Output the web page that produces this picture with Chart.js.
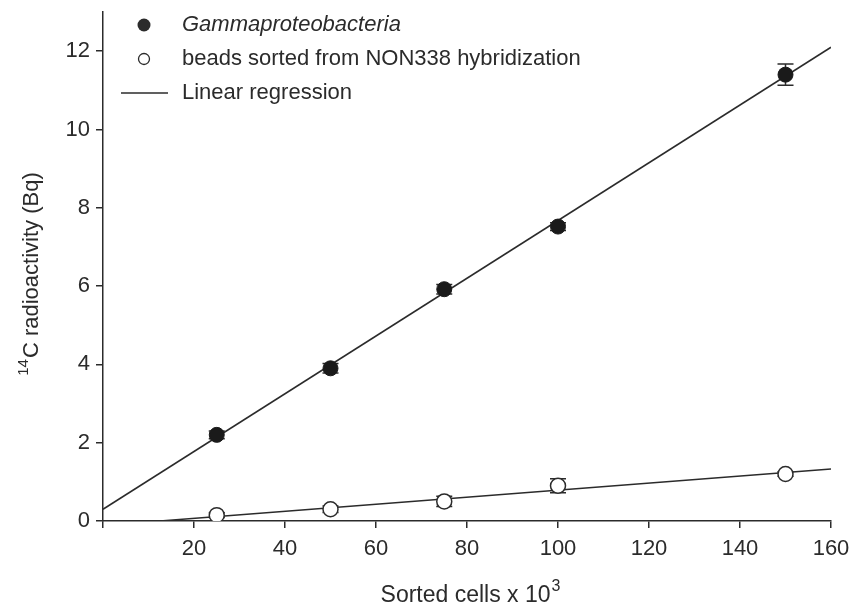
<!DOCTYPE html>
<html>
<head>
<meta charset="utf-8">
<script src="https://cdn.jsdelivr.net/npm/chart.js@4"></script>
<style>
  body { margin: 0; background: #fff; }
  #wrap { width: 855px; height: 615px; }
</style>
</head>
<body>
<div id="wrap"><canvas id="chart"></canvas></div>
<script>
/* data */
const cells = [25, 50, 75, 100, 150];
const gamma = [2.2, 3.9, 5.92, 7.52, 11.4];
const gammaErr = [0.1, 0.12, 0.12, 0.1, 0.27];
const beads = [0.15, 0.3, 0.5, 0.9, 1.2];
const beadsErr = [0.06, 0.08, 0.13, 0.18, 0.06];

// regression line ends
const gammaFitX = [0, 160];
const gammaFitY = [0.3, 12.1];
const beadsFitX = [12.5, 160];
const beadsFitY = [0, 1.33];

const legendLabels = ['Gammaproteobacteria', 'beads sorted from NON338 hybridization', 'Linear regression'];

const ink = '#2b2b2b';
const font = '"Liberation Sans", Arial, sans-serif';

function pts(xs, ys) {
  return xs.map((x, i) => ({ x: x, y: ys[i] }));
}

/* error bars, drawn under the points */
const errorBars = {
  id: 'errorBars',
  beforeDatasetsDraw(chart) {
    const ctx = chart.ctx, xs = chart.scales.x, ys = chart.scales.y;
    ctx.save();
    ctx.strokeStyle = ink;
    ctx.lineWidth = 1.5;
    chart.data.datasets.forEach(ds => {
      if (!ds.errors) return;
      ds.data.forEach((p, i) => {
        const px = xs.getPixelForValue(p.x);
        const top = ys.getPixelForValue(p.y + ds.errors[i]);
        const bot = ys.getPixelForValue(p.y - ds.errors[i]);
        ctx.beginPath();
        ctx.moveTo(px, top); ctx.lineTo(px, bot);
        ctx.moveTo(px - 8, top); ctx.lineTo(px + 8, top);
        ctx.moveTo(px - 8, bot); ctx.lineTo(px + 8, bot);
        ctx.stroke();
      });
    });
    ctx.restore();
  }
};

/* legend in the top left corner and axis titles with real superscripts */
const extras = {
  id: 'extras',
  afterDraw(chart) {
    const ctx = chart.ctx;
    const rows = [25, 59, 93];
    ctx.save();
    ctx.fillStyle = ink;
    ctx.strokeStyle = ink;
    ctx.textBaseline = 'middle';
    ctx.beginPath(); ctx.arc(144, rows[0], 6.5, 0, Math.PI * 2); ctx.fill();
    ctx.lineWidth = 1.3;
    ctx.beginPath(); ctx.arc(144, rows[1], 5.5, 0, Math.PI * 2); ctx.stroke();
    ctx.lineWidth = 1.5;
    ctx.beginPath(); ctx.moveTo(121, rows[2]); ctx.lineTo(168, rows[2]); ctx.stroke();
    ctx.font = 'italic 22px ' + font;
    ctx.fillText(legendLabels[0], 182, rows[0]);
    ctx.font = '22px ' + font;
    ctx.fillText(legendLabels[1], 182, rows[1]);
    ctx.fillText(legendLabels[2], 182, rows[2]);

    // x title
    ctx.textBaseline = 'alphabetic';
    ctx.font = '23px ' + font;
    const xMain = 'Sorted cells x 10';
    const wMain = ctx.measureText(xMain).width;
    ctx.font = '16px ' + font;
    const wSup = ctx.measureText('3').width;
    let x0 = 470 - (wMain + wSup) / 2;
    ctx.font = '23px ' + font;
    ctx.fillText(xMain, x0, 602);
    ctx.font = '16px ' + font;
    ctx.fillText('3', x0 + wMain + 1, 591);

    // y title
    ctx.translate(38, 274);
    ctx.rotate(-Math.PI / 2);
    ctx.font = '22px ' + font;
    const yMain = 'C radioactivity (Bq)';
    const wy = ctx.measureText(yMain).width;
    ctx.font = '15px ' + font;
    const wy14 = ctx.measureText('14').width;
    const y0 = -(wy + wy14 + 1) / 2;
    ctx.fillText('14', y0, -10);
    ctx.font = '22px ' + font;
    ctx.fillText(yMain, y0 + wy14 + 1, 0);
    ctx.restore();
  }
};

new Chart(document.getElementById('chart'), {
  type: 'scatter',
  data: {
    datasets: [
      {
        label: legendLabels[0],
        data: pts(cells, gamma),
        errors: gammaErr,
        backgroundColor: '#1a1a1a',
        borderColor: '#1a1a1a',
        pointRadius: 7.5,
        pointHoverRadius: 7.5,
        order: 1
      },
      {
        label: legendLabels[1],
        data: pts(cells, beads),
        errors: beadsErr,
        backgroundColor: '#fff',
        borderColor: ink,
        borderWidth: 1.5,
        pointRadius: 7.5,
        pointHoverRadius: 7.5,
        order: 2
      },
      {
        label: 'fit gamma',
        data: pts(gammaFitX, gammaFitY),
        showLine: true,
        borderColor: ink,
        borderWidth: 1.5,
        pointRadius: 0,
        order: 3
      },
      {
        label: 'fit beads',
        data: pts(beadsFitX, beadsFitY),
        showLine: true,
        borderColor: ink,
        borderWidth: 1.5,
        pointRadius: 0,
        order: 4
      }
    ]
  },
  options: {
    responsive: true,
    maintainAspectRatio: false,
    animation: false,
    layout: { padding: { top: 12, right: 24, left: 0, bottom: 0 } },
    plugins: {
      legend: { display: false },
      tooltip: { enabled: false }
    },
    scales: {
      x: {
        type: 'linear',
        min: 0,
        max: 160,
        afterFit(scale) {
          scale.height = 94;
          scale.paddingLeft = 0;
          scale.paddingRight = 0;
        },
        border: { color: ink, width: 1.5 },
        grid: { drawOnChartArea: false, color: ink, tickLength: 7, lineWidth: 1.5 },
        ticks: {
          stepSize: 20,
          color: ink,
          padding: 8,
          font: { family: font, size: 22 },
          callback: v => (v === 0 ? '' : v)
        }
      },
      y: {
        type: 'linear',
        min: 0,
        max: 13,
        afterFit(scale) {
          scale.width = 103;
          scale.paddingTop = 0;
          scale.paddingBottom = 0;
        },
        border: { color: ink, width: 1.5 },
        grid: { drawOnChartArea: false, color: ink, tickLength: 7, lineWidth: 1.5 },
        ticks: {
          stepSize: 2,
          includeBounds: false,
          color: ink,
          padding: 6,
          font: { family: font, size: 22 }
        }
      }
    }
  },
  plugins: [errorBars, extras]
});
</script>
</body>
</html>
